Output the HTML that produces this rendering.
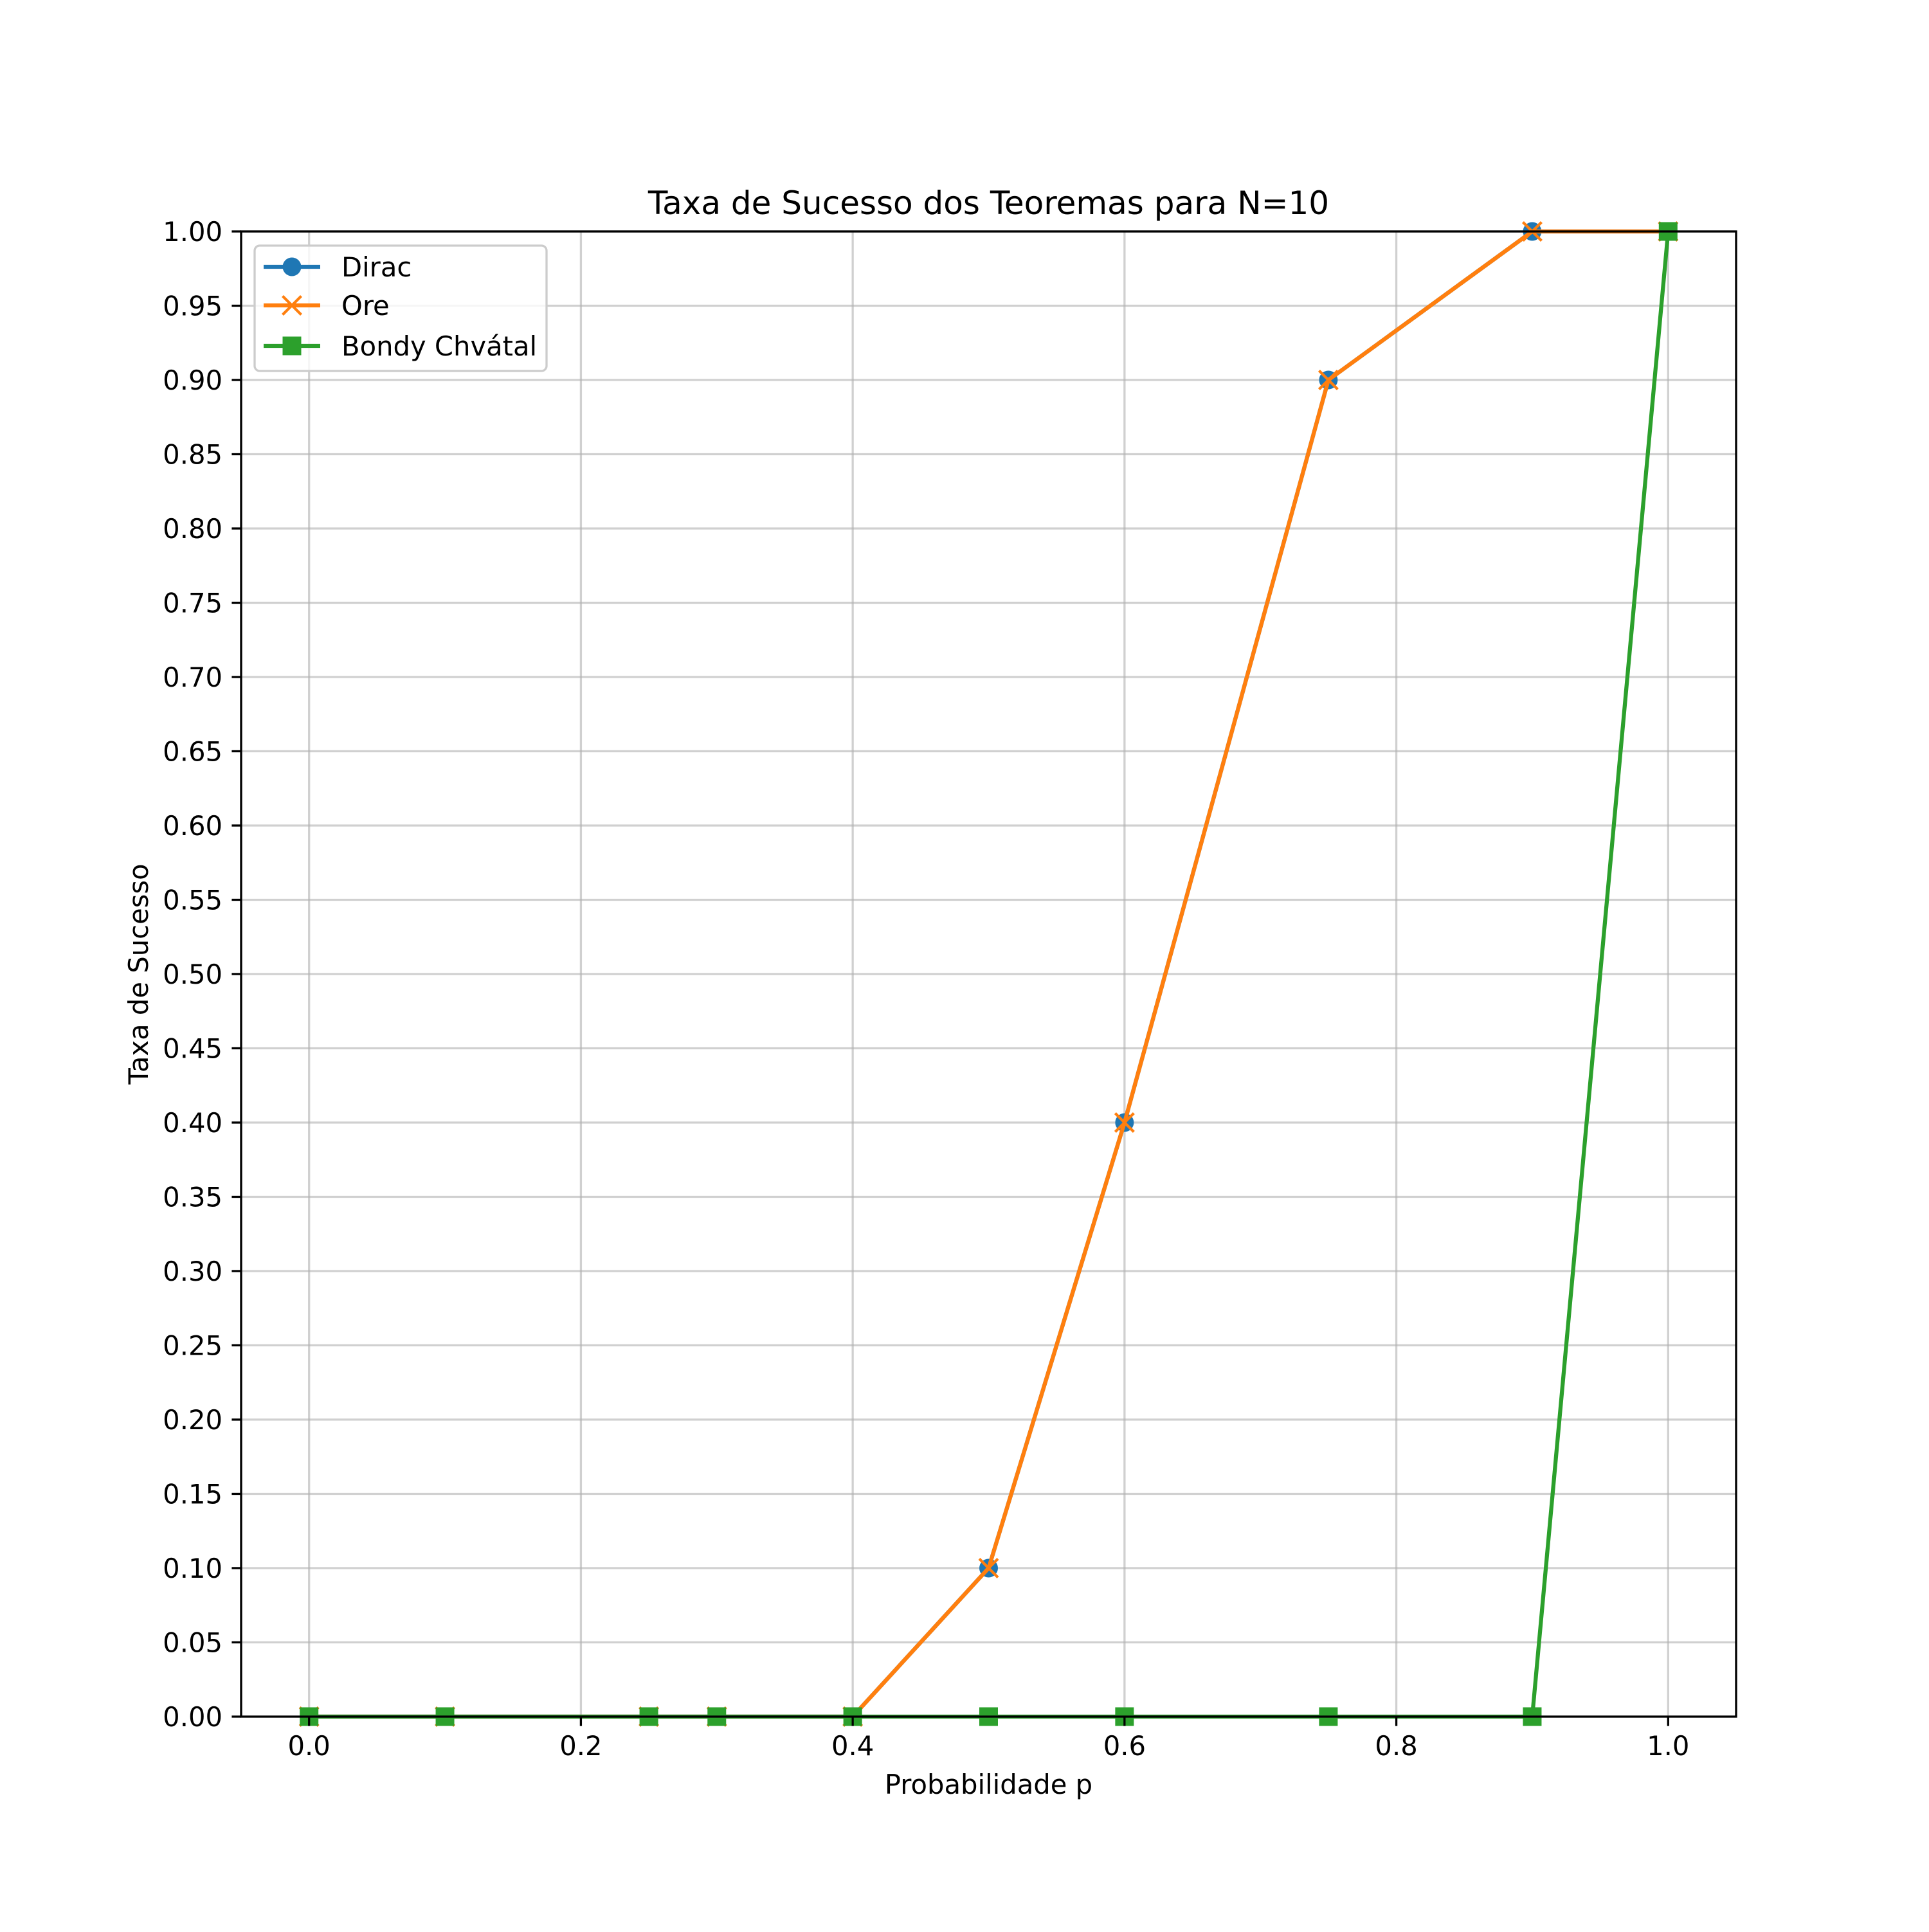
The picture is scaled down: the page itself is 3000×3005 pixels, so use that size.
<!DOCTYPE html>
<html><head><meta charset="utf-8"><style>
html,body{margin:0;padding:0;background:#fff;}
svg text{font-family:"DejaVu Sans","Liberation Sans",sans-serif;fill:#000;}
</style></head><body>
<svg id="chart" width="3000" height="3000" xmlns="http://www.w3.org/2000/svg">
<rect width="3000" height="3000" fill="#fff"/>
<g id="grid"></g>
<g id="series"></g>
<g id="axes"></g>
</svg>
<script>
const xValues = [0, 0.1, 0.25, 0.3, 0.4, 0.5, 0.6, 0.75, 0.9, 1.0];
const diracValues = [0, 0, 0, 0, 0, 0.1, 0.4, 0.9, 1.0, 1.0];
const oreValues = [0, 0, 0, 0, 0, 0.1, 0.4, 0.9, 1.0, 1.0];
const bondyValues = [0, 0, 0, 0, 0, 0, 0, 0, 0, 1.0];
const xTicks = [0, 0.2, 0.4, 0.6, 0.8, 1.0];
const xTickLabels = ["0.0","0.2","0.4","0.6","0.8","1.0"];
const yTicks = [0,0.05,0.1,0.15,0.2,0.25,0.3,0.35,0.4,0.45,0.5,0.55,0.6,0.65,0.7,0.75,0.8,0.85,0.9,0.95,1.0];
const yTickLabels = ["0.00","0.05","0.10","0.15","0.20","0.25","0.30","0.35","0.40","0.45","0.50","0.55","0.60","0.65","0.70","0.75","0.80","0.85","0.90","0.95","1.00"];

const L=375,R=2700,T=360,B=2670;
const xMin=-0.05,xMax=1.05,yMin=0,yMax=1;
const X=v=>L+(v-xMin)/(xMax-xMin)*(R-L);
const Y=v=>B-(v-yMin)/(yMax-yMin)*(B-T);
const NS="http://www.w3.org/2000/svg";
function mk(tag,attrs,parent,txt){const e=document.createElementNS(NS,tag);for(const k in attrs)e.setAttribute(k,attrs[k]);if(txt!==undefined)e.textContent=txt;parent.appendChild(e);return e;}
const grid=document.getElementById('grid'),series=document.getElementById('series'),axes=document.getElementById('axes'),svg=document.getElementById('chart');

xTicks.forEach((t,i)=>{
 const g=mk('line',{x1:X(t),x2:X(t),y1:T,y2:B,stroke:'#b0b0b0','stroke-width':3.3,'stroke-opacity':0.6},grid);
 
 
 mk('line',{x1:X(t),x2:X(t),y1:B,y2:B+14.6,stroke:'#000','stroke-width':3.3},axes);
 const tx=mk('text',{x:X(t),y:2730,'font-size':41.7,'text-anchor':'middle'},axes,xTickLabels[i]);
 
 
});
yTicks.forEach((t,i)=>{
 const g=mk('line',{x1:L,x2:R,y1:Y(t),y2:Y(t),stroke:'#b0b0b0','stroke-width':3.3,'stroke-opacity':0.6},grid);
 
 
 mk('line',{x1:L-14.6,x2:L,y1:Y(t),y2:Y(t),stroke:'#000','stroke-width':3.3},axes);
 const tx=mk('text',{x:L-29,y:Y(t)+15,'font-size':41.7,'text-anchor':'end'},axes,yTickLabels[i]);
 
 
});

const MS=14.5;
function drawLine(vals,color,name){
 const pts=xValues.map((x,i)=>X(x)+','+Y(vals[i])).join(' ');
 const p=mk('polyline',{points:pts,fill:'none',stroke:color,'stroke-width':6.25,'stroke-linejoin':'round','stroke-linecap':'square'},series);
 
 
}
function circle(cx,cy,g){mk('circle',{cx:cx,cy:cy,r:MS,fill:'#1f77b4'},g);}
function cross(cx,cy,g){const d=MS;mk('path',{d:`M${cx-d},${cy-d}L${cx+d},${cy+d}M${cx-d},${cy+d}L${cx+d},${cy-d}`,stroke:'#ff7f0e','stroke-width':4.2},g);}
function square(cx,cy,g){mk('rect',{x:cx-MS,y:cy-MS,width:2*MS,height:2*MS,fill:'#2ca02c'},g);}

drawLine(diracValues,'#1f77b4','dirac-line');
const gd=mk('g',{},series);
xValues.forEach((x,i)=>circle(X(x),Y(diracValues[i]),gd));
drawLine(oreValues,'#ff7f0e','ore-line');
const go=mk('g',{},series);
xValues.forEach((x,i)=>cross(X(x),Y(oreValues[i]),go));
drawLine(bondyValues,'#2ca02c','bondy-chvatal-line');
const gb=mk('g',{},series);
xValues.forEach((x,i)=>square(X(x),Y(bondyValues[i]),gb));

const frame=mk('rect',{x:L,y:T,width:R-L,height:B-T,fill:'none',stroke:'#000','stroke-width':3.3},axes);



const title=mk('text',{x:(L+R)/2,y:333,'font-size':50,'text-anchor':'middle'},axes,'Taxa de Sucesso dos Teoremas para N=10');


const xl=mk('text',{x:(L+R)/2,y:2790,'font-size':41.7,'text-anchor':'middle'},axes,'Probabilidade p');


const yl=mk('text',{x:0,y:0,'font-size':41.7,'text-anchor':'middle',transform:`translate(230,${(T+B)/2}) rotate(-90)`},axes,'Taxa de Sucesso');



const leg=mk('g',{},svg);


mk('rect',{x:396,y:382,width:454,height:195,rx:8,fill:'#fff','fill-opacity':0.8,stroke:'#cccccc','stroke-width':3.3},leg);
const entries=[['Dirac','#1f77b4',circle,415],['Ore','#ff7f0e',cross,475],['Bondy Chvátal','#2ca02c',square,538]];
entries.forEach(([lab,col,fn,y])=>{
 const g=mk('g',{},leg);
 
 
 mk('line',{x1:410,x2:498,y1:y,y2:y,stroke:col,'stroke-width':6.25},g);
 fn(454,y,g);
 mk('text',{x:531,y:y+15,'font-size':41.7},g,lab);
});
</script>
</body></html>
